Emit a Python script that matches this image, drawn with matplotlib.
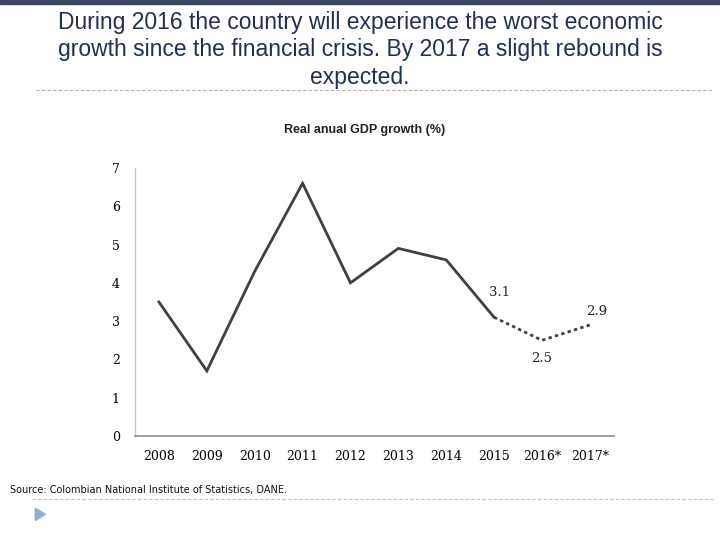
import matplotlib.pyplot as plt
from matplotlib.patches import Rectangle, Polygon
from matplotlib.lines import Line2D

# Dane
years = ["2008", "2009", "2010", "2011", "2012", "2013", "2014", "2015", "2016*", "2017*"]
growth = [3.5, 1.7, 4.3, 6.6, 4.0, 4.9, 4.6, 3.1, 2.5, 2.9]
labelled = {7: "3.1", 8: "2.5", 9: "2.9"}
yticks = [0, 1, 2, 3, 4, 5, 6, 7]

header = ("During 2016 the country will experience the worst economic\n"
          "growth since the financial crisis. By 2017 a slight rebound is\n"
          "expected.")
chart_title = "Real anual GDP growth (%)"
source = "Source: Colombian National Institute of Statistics, DANE."

fig = plt.figure(figsize=(7.2, 5.4), dpi=100)
ax = fig.add_axes([0.1875, 0.1926, 0.665, 0.4963])

x = list(range(len(years)))
solid_end = 7
ax.plot(x[:solid_end + 1], growth[:solid_end + 1], color="#404040", lw=2.0,
        solid_joinstyle="miter")
ax.plot(x[solid_end:], growth[solid_end:], color="#404040", lw=2.0,
        linestyle=(0, (1.2, 1.2)))

# Etykiety wartości
offsets = {7: (4, 18), 8: (0, -13), 9: (5, 10)}
for i, txt in labelled.items():
    dx, dy = offsets[i]
    ax.annotate(txt, (x[i], growth[i]), xytext=(dx, dy), textcoords="offset points",
                ha="center", va="center", fontsize=9.5, family="DejaVu Serif",
                color="#222222")

ax.set_xlim(-0.5, 9.5)
ax.set_ylim(0, 7)
ax.set_xticks(x)
ax.set_xticklabels(years, family="DejaVu Serif", fontsize=9)
ax.set_yticks(yticks)
ax.set_yticklabels([str(v) for v in yticks], family="DejaVu Serif", fontsize=9)
ax.tick_params(length=0, pad=11)
ax.tick_params(axis="x", pad=10)
for s in ["top", "right"]:
    ax.spines[s].set_visible(False)
ax.spines["left"].set_color("#c8c8c8")
ax.spines["bottom"].set_color("#909090")
ax.spines["left"].set_linewidth(1.0)
ax.spines["bottom"].set_linewidth(1.2)

# Tytuły i dekoracje slajdu
fig.text(0.5, 0.98, header, ha="center", va="top", fontsize=16.5,
         family="Liberation Sans", color="#1f2f55", linespacing=1.25)
fig.text(0.507, 0.76, chart_title, ha="center", va="center", fontsize=9,
         family="Liberation Sans", fontweight="bold", color="#222222")
fig.text(0.014, 0.093, source, ha="left", va="center", fontsize=7,
         family="DejaVu Sans", color="#111111")

fig.patches.append(Rectangle((0, 0.992), 1, 0.008, transform=fig.transFigure,
                             color="#3a4660", zorder=5))
fig.lines.append(Line2D([0.05, 0.99], [0.833, 0.833], transform=fig.transFigure,
                        color="#b0b0b0", lw=0.8, linestyle=(0, (3, 2))))
fig.lines.append(Line2D([0.045, 0.99], [0.076, 0.076], transform=fig.transFigure,
                        color="#c0c0c0", lw=0.8, linestyle=(0, (3, 2))))
fig.patches.append(Polygon([[0.049, 0.059], [0.049, 0.036], [0.063, 0.0475]],
                           closed=True, transform=fig.transFigure,
                           color="#8fb0d8", zorder=5))

plt.savefig("out.png", dpi=100)
